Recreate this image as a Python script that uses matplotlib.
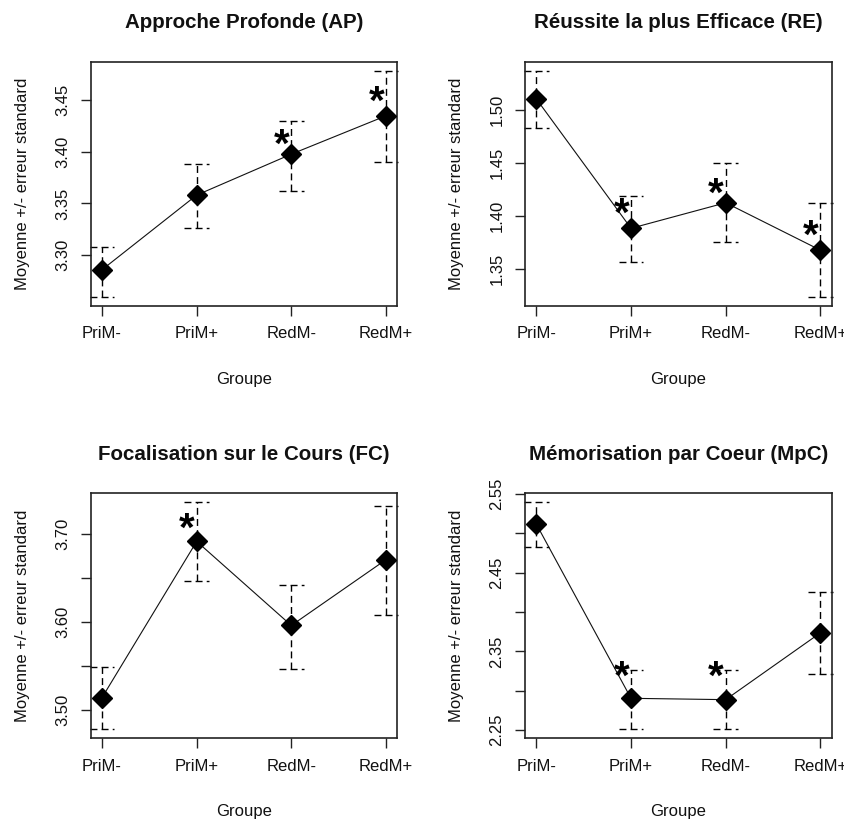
import matplotlib
matplotlib.use("Agg")
import matplotlib.pyplot as plt
import numpy as np

plt.rcParams['font.family'] = ['Liberation Sans', 'DejaVu Sans']

groups = ["PriM-", "PriM+", "RedM-", "RedM+"]

titles = ["Approche Profonde (AP)", "Réussite la plus Efficace (RE)",
          "Focalisation sur le Cours (FC)", "Mémorisation par Coeur (MpC)"]

ap_mean = [3.286, 3.358, 3.3975, 3.4345]
ap_low = [3.260, 3.326, 3.362, 3.390]
ap_high = [3.308, 3.388, 3.4295, 3.478]
ap_star = [None, None, 3.412, 3.454]
ap_ticks = [3.30, 3.35, 3.40, 3.45]
ap_ticklabels = ["3.30", "3.35", "3.40", "3.45"]

re_mean = [1.510, 1.3885, 1.4125, 1.368]
re_low = [1.483, 1.357, 1.376, 1.3243]
re_high = [1.5365, 1.4187, 1.450, 1.4125]
re_star = [None, 1.408, 1.4266, 1.3875]
re_ticks = [1.35, 1.40, 1.45, 1.50]
re_ticklabels = ["1.35", "1.40", "1.45", "1.50"]

fc_mean = [3.514, 3.6916, 3.596, 3.6708]
fc_low = [3.478, 3.647, 3.547, 3.608]
fc_high = [3.5485, 3.736, 3.6424, 3.732]
fc_star = [None, 3.7125, None, None]
fc_ticks = [3.50, 3.55, 3.60, 3.65, 3.70]
fc_ticklabels = ["3.50", "", "3.60", "", "3.70"]

mpc_mean = [2.5117, 2.2903, 2.2886, 2.3735]
mpc_low = [2.483, 2.251, 2.251, 2.3215]
mpc_high = [2.5394, 2.3266, 2.3257, 2.4255]
mpc_star = [None, 2.3257, 2.3257, None]
mpc_ticks = [2.25, 2.30, 2.35, 2.40, 2.45, 2.50, 2.55]
mpc_ticklabels = ["2.25", "", "2.35", "", "2.45", "", "2.55"]

xlabel = "Groupe"
ylabel = "Moyenne +/- erreur standard"

panels = [
    (ap_mean, ap_low, ap_high, ap_star, ap_ticks, ap_ticklabels),
    (re_mean, re_low, re_high, re_star, re_ticks, re_ticklabels),
    (fc_mean, fc_low, fc_high, fc_star, fc_ticks, fc_ticklabels),
    (mpc_mean, mpc_low, mpc_high, mpc_star, mpc_ticks, mpc_ticklabels),
]

W, H = 845, 822
fig = plt.figure(figsize=(W / 100, H / 100), dpi=100)

# axes boxes in pixels: left, top, right, bottom
boxes = [(90.7, 61.7, 397.3, 305.7), (525, 61.7, 831.7, 305.7),
         (90.7, 493.3, 397.3, 738.3), (525, 493.3, 831.7, 738.3)]

dash = (0, (5, 3))
cap_half = 0.13
tick_fs = 12
for i, (mean, low, high, star, ticks, tlabels) in enumerate(panels):
    l, t, r, b = boxes[i]
    ax = fig.add_axes([l / W, 1 - b / H, (r - l) / W, (b - t) / H])
    x = np.arange(1, len(groups) + 1)
    ax.plot(x, mean, color='#111111', lw=0.8, zorder=2)
    for xi, lo, hi in zip(x, low, high):
        ax.plot([xi, xi], [lo, hi], color='black', lw=1.0, linestyle=dash, zorder=1)
        ax.plot([xi - cap_half, xi + cap_half], [hi, hi], color='black', lw=1.0,
                linestyle=dash, zorder=1, clip_on=False)
        ax.plot([xi - cap_half, xi + cap_half], [lo, lo], color='black', lw=1.0,
                linestyle=dash, zorder=1, clip_on=False)
    ax.plot(x, mean, linestyle='none', marker='D', ms=10.5, color='black',
            mec='black', mew=1.0, zorder=3)
    for xi, s in zip(x, star):
        if s is not None:
            ax.annotate("*", xy=(xi - 0.1, s), xytext=(0, -13.0),
                        textcoords='offset points', ha='center', va='baseline',
                        fontsize=29, fontweight='bold', color='black', zorder=4)
    n = len(groups)
    ax.set_xlim(1 - 0.04 * (n - 1), n + 0.04 * (n - 1))
    lo_all, hi_all = min(low), max(high)
    rng = hi_all - lo_all
    ax.set_ylim(lo_all - 0.04 * rng, hi_all + 0.04 * rng)
    ax.set_xticks(x)
    ax.set_xticklabels(groups, fontsize=tick_fs, color='#111111')
    ax.set_yticks(ticks)
    ax.set_yticklabels(tlabels, fontsize=tick_fs, color='#111111')
    for lab in ax.get_yticklabels():
        lab.set_rotation(90)
        lab.set_va('center')
        lab.set_ha('right')
    ax.tick_params(axis='x', length=7.2, width=1.0, pad=7.5, color='#222222')
    ax.tick_params(axis='y', length=7.2, width=1.0, pad=7.5, color='#222222')
    for sp in ax.spines.values():
        sp.set_linewidth(1.2)
        sp.set_color('#222222')
    ax.set_xlabel(xlabel, fontsize=tick_fs, labelpad=22, color='#111111')
    ax.set_ylabel(ylabel, fontsize=tick_fs, labelpad=18.5, color='#111111')
    ax.set_title(titles[i], fontsize=14.75, fontweight='bold', pad=24, color='#111111')

fig.savefig("out.png", dpi=100)
